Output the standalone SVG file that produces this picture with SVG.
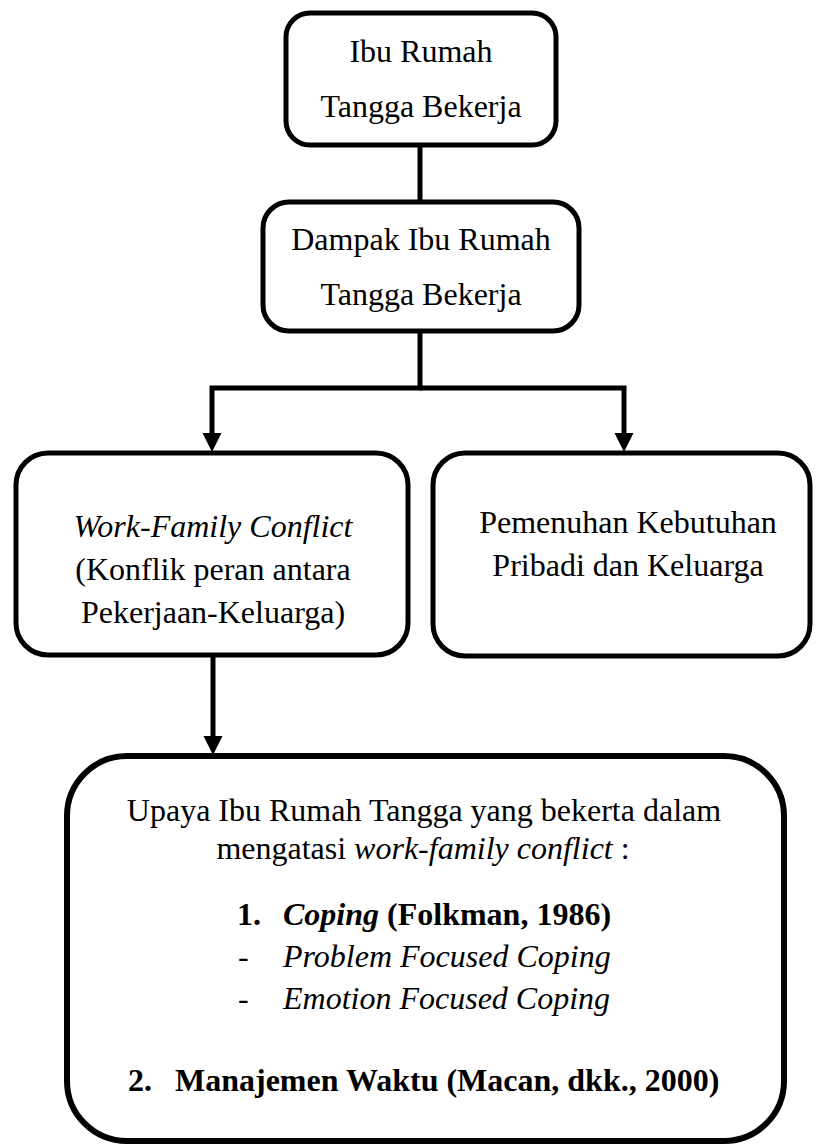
<svg xmlns="http://www.w3.org/2000/svg" width="816" height="1145" viewBox="0 0 816 1145">
<style>
.box{fill:#fff;stroke:#000;stroke-width:5}
.t{font-size:32px;fill:#000}
.m{text-anchor:middle}
.i{font-style:italic}
.b{font-weight:bold}
.c{fill:none;stroke:#000;stroke-width:5}
</style>
<rect width="816" height="1145" fill="#fff"/>
<g id="connectors">
<line class="c" x1="420" y1="145" x2="420" y2="202"/>
<polyline class="c" points="420,331 420,388 212,388 212,437"/>
<polyline class="c" points="420,388 624,388 624,437"/>
<path d="M202.5,433 L221.5,433 L212,452 Z" fill="#000"/>
<path d="M614.5,433 L633.5,433 L624,452 Z" fill="#000"/>
<line class="c" x1="213" y1="655" x2="213" y2="740"/>
<path d="M203.5,736 L222.5,736 L213,755 Z" fill="#000"/>
</g>
<g font-family="Liberation Serif, Tinos, Times New Roman, Times, serif">
<g id="node1">
<rect class="box" x="286" y="13" width="270" height="132" rx="24"/>
<text class="t m" x="421" y="62">Ibu Rumah</text>
<text class="t m" x="421" y="117">Tangga Bekerja</text>
</g>
<g id="node2">
<rect class="box" x="263" y="202" width="316" height="129" rx="26"/>
<text class="t m" x="421" y="250">Dampak Ibu Rumah</text>
<text class="t m" x="421" y="305">Tangga Bekerja</text>
</g>
<g id="node3">
<rect class="box" x="16" y="453" width="392" height="202" rx="32"/>
<text class="t m i" x="213" y="537">Work-Family Conflict</text>
<text class="t m" x="213" y="580">(Konflik peran antara</text>
<text class="t m" x="213" y="623">Pekerjaan-Keluarga)</text>
</g>
<g id="node4">
<rect class="box" x="433" y="453" width="377" height="203" rx="32"/>
<text class="t m" x="628" y="533">Pemenuhan Kebutuhan</text>
<text class="t m" x="628" y="576">Pribadi dan Keluarga</text>
</g>
<g id="node5">
<rect class="box" x="67" y="756" width="717" height="385" rx="60" style="stroke-width:6"/>
<text class="t m" x="424" y="821">Upaya Ibu Rumah Tangga yang bekerta dalam</text>
<text class="t m" x="423" y="859">mengatasi <tspan class="i">work-family conflict</tspan> :</text>
<text class="t b" x="237" y="925">1.</text>
<text class="t b" x="283" y="925"><tspan class="i">Coping</tspan> (Folkman, 1986)</text>
<text class="t" x="238" y="967">-</text>
<text class="t i" x="283" y="967">Problem Focused Coping</text>
<text class="t" x="238" y="1009">-</text>
<text class="t i" x="283" y="1009">Emotion Focused Coping</text>
<text class="t b" x="128" y="1091">2.</text>
<text class="t b" x="175" y="1091">Manajemen Waktu (Macan, dkk., 2000)</text>
</g>
</g>
</svg>
